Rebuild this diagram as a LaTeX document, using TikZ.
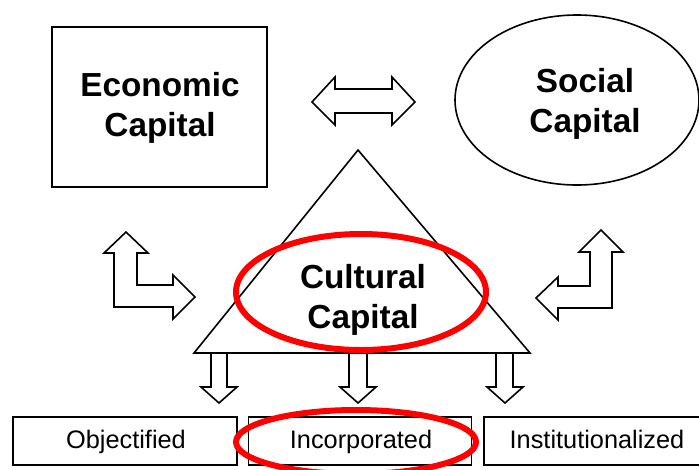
\documentclass[tikz,border=0pt]{standalone}
\usepackage{fontspec}
\setmainfont{Liberation Sans}
\begin{document}
\begin{tikzpicture}[x=0.75pt,y=-0.75pt,
  blk/.style={draw=black,line width=1.2pt,fill=white},
  arr/.style={draw=black,line width=1.2pt,fill=white,line join=miter},
  big/.style={font=\bfseries\fontsize{25}{30}\selectfont,align=center},
  small/.style={font=\fontsize{19}{22}\selectfont,text height=14pt,text depth=4pt},
  redring/.style={draw=red,line width=4.5pt}]
\useasboundingbox (0,0) rectangle (699,469);
% Economic capital box
\node[blk,minimum width=215*0.75pt,minimum height=160*0.75pt,inner sep=0pt] (econbox) at (159.5,107) {};
\node[big] (econ) at (160,108) {Economic\\Capital};
% Social capital ellipse
\draw[blk] (577,100) ellipse [x radius=122, y radius=85];
\node[big] (social) at (585,104) {Social\\Capital};
% double arrow
\draw[arr] (312,102) -- (335,77) -- (335,89) -- (392,89) -- (392,77) -- (415,102)
  -- (392,125) -- (392,113) -- (335,113) -- (335,125) -- cycle;
% triangle
\draw[arr] (358,150) -- (530,353) -- (194,353) -- cycle;
% L arrows
\draw[arr] (126,232) -- (148,253) -- (137,253) -- (137,285) -- (173,285) -- (173,275)
  -- (195,297) -- (173,319) -- (173,307) -- (114,307) -- (114,253) -- (104,253) -- cycle;
\draw[arr] (601,230) -- (623,252) -- (612,252) -- (612,308) -- (558,308) -- (558,320)
  -- (536,298) -- (558,277) -- (558,286) -- (590,286) -- (590,252) -- (579,252) -- cycle;
% down arrows
\draw[arr] (211,353) -- (227,353) -- (227,387) -- (237,387) -- (219,403) -- (201,387) -- (211,387) -- cycle;
\draw[arr] (349,353) -- (367,353) -- (367,387) -- (376,387) -- (358,403) -- (340,387) -- (349,387) -- cycle;
\draw[arr] (496,353) -- (513,353) -- (513,387) -- (523,387) -- (505,403) -- (487,387) -- (496,387) -- cycle;
% Cultural capital
\draw[redring] (361,292) ellipse [x radius=125, y radius=58];
\node[big] (cult) at (363,300) {Cultural\\Capital};
% bottom boxes
\node[blk,minimum width=224*0.75pt,minimum height=48*0.75pt,inner sep=0pt] (obj) at (125,441) {};
\node[blk,minimum width=223*0.75pt,minimum height=48*0.75pt,inner sep=0pt] (inc) at (360,441) {};
\node[blk,minimum width=222*0.75pt,minimum height=48*0.75pt,inner sep=0pt] (inst) at (595,441) {};
\draw[redring] (356,442) ellipse [x radius=120, y radius=32];
\node[small] (objt) at (126,442) {Objectified};
\node[small] (inct) at (361,442) {Incorporated};
\node[small] (instt) at (597,442) {Institutionalized};
\end{tikzpicture}
\end{document}
